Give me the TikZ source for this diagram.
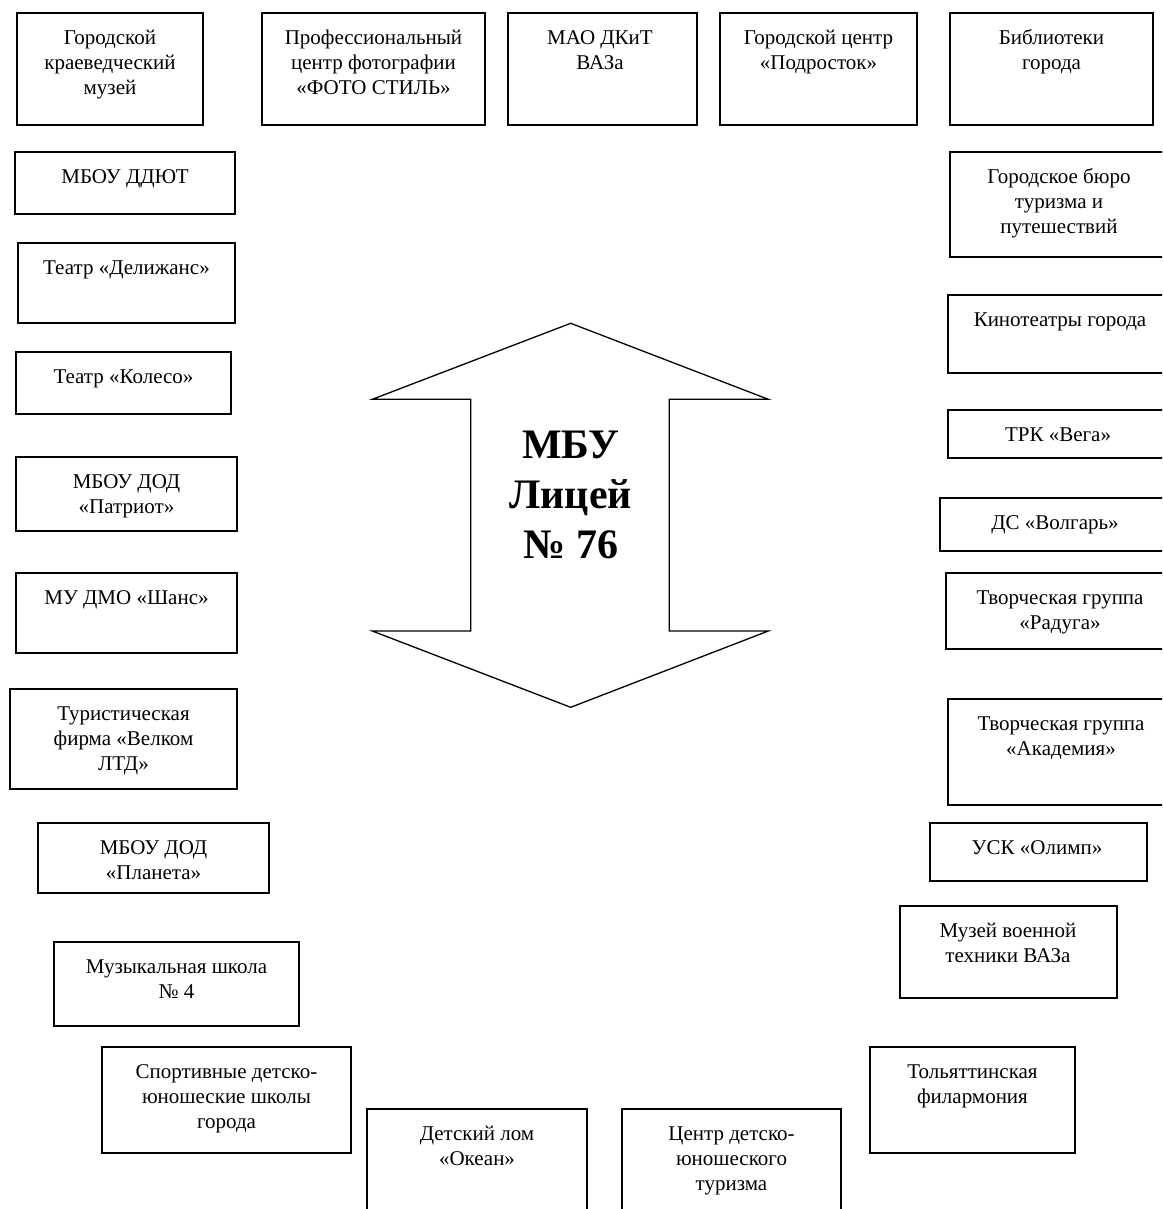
\documentclass[tikz,border=0pt]{standalone}
\usepackage{fontspec}
\setmainfont{Liberation Serif}
\newcommand\orgbox[7]{%
  \node[orgrect, minimum width=#4pt-#2pt, minimum height=#5pt-#3pt] (#1) at (#2,#3) {};
  \node[orgtxt] (#1-t) at (#6,#3+14) {\rule{0pt}{17.5pt}#7};}
\begin{document}
\begin{tikzpicture}[x=1pt,y=-1pt,
  orgrect/.style={draw, line width=1.5pt, inner sep=0pt, outer sep=0pt, anchor=north west},
  orgtxt/.style={font=\fontsize{21}{25}\selectfont, align=center, inner sep=0pt, anchor=north},
  bigarrow/.style={draw, line width=1.3pt, line join=miter},
  titletxt/.style={font=\fontsize{42}{50}\selectfont\bfseries, align=center, inner sep=0pt, anchor=north}]
\useasboundingbox (0,0) rectangle (1162,1209);
\clip (0,0) rectangle (1162,1209);
% top row
\orgbox{b1}{17}{13}{203}{125}{110}{Городской\\краеведческий\\музей}
\orgbox{b2}{262}{13}{485}{125}{373.5}{Профессиональный\\центр фотографии\\«ФОТО СТИЛЬ»}
\orgbox{b3}{508}{13}{697}{125}{600}{МАО ДКиТ\\ВАЗа}
\orgbox{b4}{720}{13}{917}{125}{818.5}{Городской центр\\«Подросток»}
\orgbox{b5}{950}{13}{1153}{125}{1051.5}{Библиотеки\\города}
% left column
\orgbox{l1}{15}{152}{235}{214}{125}{МБОУ ДДЮТ}
\orgbox{l2}{18}{243}{235}{323}{126.5}{Театр «Делижанс»}
\orgbox{l3}{16}{352}{231}{414}{123.5}{Театр «Колесо»}
\orgbox{l4}{16}{457}{237}{531}{126.5}{МБОУ ДОД\\«Патриот»}
\orgbox{l5}{16}{573}{237}{653}{126.5}{МУ ДМО «Шанс»}
\orgbox{l6}{10}{689}{237}{789}{123.5}{Туристическая\\фирма «Велком\\ЛТД»}
\orgbox{l7}{38}{823}{269}{893}{153.5}{МБОУ ДОД\\«Планета»}
\orgbox{l8}{54}{942}{299}{1026}{176.5}{Музыкальная школа\\№ 4}
\orgbox{l9}{102}{1047}{351}{1153}{226.5}{Спортивные детско-\\юношеские школы\\города}
% bottom
\orgbox{d1}{367}{1109}{587}{1240}{477}{Детский лом\\«Океан»}
\orgbox{d2}{622}{1109}{841}{1240}{731.5}{Центр детско-\\юношеского\\туризма}
% right column
\orgbox{r1}{950}{152}{1175}{257}{1059}{Городское бюро\\туризма и\\путешествий}
\orgbox{r2}{948}{295}{1175}{373}{1060}{Кинотеатры города}
\orgbox{r3}{948}{410}{1175}{458}{1058}{ТРК «Вега»}
\orgbox{r4}{940}{498}{1175}{551}{1055}{ДС «Волгарь»}
\orgbox{r5}{946}{573}{1175}{649}{1060}{Творческая группа\\«Радуга»}
\orgbox{r6}{948}{699}{1175}{805}{1061}{Творческая группа\\«Академия»}
\orgbox{r7}{930}{823}{1147}{881}{1037}{УСК «Олимп»}
\orgbox{r8}{900}{906}{1117}{998}{1008}{Музей военной\\техники ВАЗа}
\orgbox{r9}{870}{1047}{1075}{1153}{972.5}{Тольяттинская\\филармония}
% central double arrow
\draw[bigarrow] (570.7,323.3) -- (768.3,399.3) -- (669.3,399.3) -- (669.3,631)
  -- (768.3,631) -- (570.7,707.3) -- (372.3,631) -- (470.7,631)
  -- (470.7,399.3) -- (372.3,399.3) -- cycle;
\node[titletxt] (title) at (570.7,423) {\rule{0pt}{35pt}МБУ\\Лицей\\№ 76};
\end{tikzpicture}
\end{document}
